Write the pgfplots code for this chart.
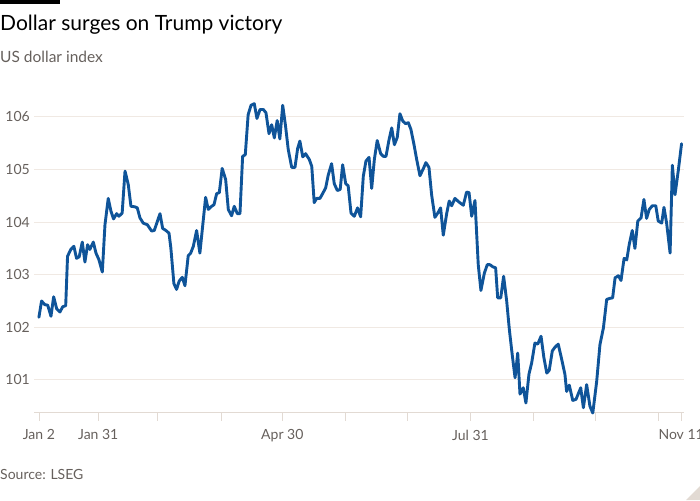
\documentclass[border=0pt]{standalone}
\usepackage{fontspec}
\setmainfont{Lato}
\usepackage{pgfplots}
\pgfplotsset{compat=1.18}
\definecolor{ftblue}{HTML}{0F5499}
\definecolor{ftgrid}{HTML}{F0E9E3}
\definecolor{fttick}{HTML}{E2DAD3}
\definecolor{fttext}{HTML}{66605C}
\begin{document}
\begin{tikzpicture}[x=1pt,y=1pt]
\path[use as bounding box] (0,0) rectangle (700,500);
\fill[black] (0,496) rectangle (60,500);
\node[anchor=base west, inner sep=0pt, font=\fontsize{21}{24}\selectfont] at (0,469) {Dollar surges on Trump victory};
\node[anchor=base west, inner sep=0pt, text=fttext, font=\fontsize{15.5}{18}\selectfont] at (0,437) {US dollar index};
\node[anchor=base west, inner sep=0pt, text=fttext, font=\fontsize{14}{17}\selectfont] at (0,20.7) {Source: LSEG};
\fill[fttick] (686,0) -- (700,14) -- (700,0) -- cycle;
\begin{axis}[
    at={(34pt,87.5pt)}, anchor=south west,
    scale only axis,
    width=650pt, height=319.3pt,
    xmin=-2.4, xmax=315.4,
    ymin=100.38, ymax=106.45,
    clip=false,
    axis line style={draw=none},
    ytick={101,102,103,104,105,106},
    ymajorgrids,
    grid style={ftgrid, line width=0.8pt},
    xtick={0,29,58,89,119,150,180,211,242,272,303,314},
    xticklabels={Jan 2,Jan 31,,,Apr 30,,,Jul 31,,,,Nov 11},
    tick align=outside,
    major tick length=8pt,
    xtick pos=bottom, ytick pos=left,
    xtick style={draw=fttick, line width=0.8pt},
    ytick style={draw=none},
    /pgf/number format/assume math mode=true,
    ticklabel style={text=fttext, font=\fontsize{14}{16}\selectfont},
    yticklabel style={inner sep=0pt, xshift=4pt},
    xticklabel style={inner sep=0pt, yshift=-9pt},
]
\draw[fttick, line width=0.8pt] (rel axis cs:0,0) -- (rel axis cs:1,0);
\addplot[ftblue, line width=2.9pt, line join=round, line cap=round] coordinates {
(0,102.19) (1.3,102.50) (2.9,102.43) (4.3,102.42) (5.9,102.21) (7.2,102.58)
(8.7,102.35) (10.3,102.29) (11.6,102.39) (13.1,102.41) (14.0,103.35) (15.6,103.48)
(17.1,103.54) (18.4,103.31) (19.7,103.34) (21.2,103.62) (22.5,103.24) (23.8,103.57)
(24.9,103.48) (26.6,103.62) (27.9,103.41) (29.3,103.29) (31.0,103.05) (32.3,103.95)
(33.9,104.45) (35.2,104.21) (36.5,104.06) (38.0,104.16) (39.1,104.11) (40.7,104.17)
(42.1,104.97) (43.7,104.71) (45.0,104.30) (46.9,104.29) (48.1,104.27) (49.4,104.08)
(51.0,103.98) (53.0,103.95) (55.1,103.83) (56.4,103.84) (59.2,104.16) (60.5,103.88)
(62.1,103.84) (63.6,103.79) (64.5,103.51) (66.0,102.83) (67.3,102.72) (68.6,102.88)
(70.1,102.95) (71.4,102.79) (73.0,103.36) (74.2,103.41) (75.5,103.54) (77.1,103.84)
(78.7,103.41) (80.0,103.90) (81.5,104.47) (82.8,104.24) (84.1,104.29) (85.6,104.33)
(86.9,104.54) (88.2,104.56) (89.6,105.02) (91.3,104.81) (92.6,104.24) (94.2,104.12)
(95.5,104.30) (97.0,104.16) (98.3,104.16) (99.6,105.25) (100.9,105.28) (102.3,106.04)
(103.7,106.22) (105.3,106.25) (106.6,105.97) (108.1,106.14) (109.7,106.14) (111.0,106.08)
(112.5,105.68) (113.8,105.85) (115.1,105.60) (116.5,105.93) (117.8,105.58) (119.2,106.22)
(120.6,105.82) (121.9,105.38) (123.6,105.04) (125.2,105.04) (126.5,105.40) (127.6,105.54)
(129.0,105.24) (130.4,105.30) (132.2,105.19) (133.4,105.06) (134.6,104.37) (135.8,104.45)
(137.4,104.45) (138.7,104.54) (140.2,104.65) (141.5,104.90) (143.1,105.11) (144.4,104.73)
(145.9,104.60) (147.3,104.62) (148.5,105.09) (150.0,104.73) (151.2,104.69) (152.6,104.17)
(154.2,104.11) (155.8,104.27) (157.3,104.10) (158.6,104.87) (159.9,105.16) (161.4,105.23)
(162.7,104.64) (164.0,105.19) (165.4,105.55) (167.1,105.30) (168.4,105.25) (169.7,105.25)
(171.2,105.57) (172.5,105.79) (173.8,105.47) (175.2,105.61) (176.5,106.06) (177.9,105.92)
(179.3,105.87) (180.6,105.89) (181.9,105.76) (183.4,105.47) (184.7,105.19) (186.3,104.88)
(188.0,105.02) (189.2,105.13) (190.7,105.04) (192.0,104.52) (193.6,104.09) (195.0,104.17)
(196.4,104.27) (197.7,103.75) (199.4,104.17) (200.6,104.40) (201.8,104.31) (203.4,104.45)
(205.4,104.38) (207.5,104.32) (209.1,104.57) (210.3,104.56) (211.6,104.11) (213.2,104.41)
(214.8,103.19) (216.1,102.70) (217.8,103.03) (219.2,103.19) (220.5,103.19) (221.9,103.15)
(223.3,103.13) (224.3,102.56) (225.8,102.56) (227.2,102.97) (228.7,102.50) (230.0,101.96)
(231.4,101.48) (232.8,101.04) (234.1,101.51) (235.2,100.73) (236.8,100.85) (238.1,100.56)
(239.6,101.11) (240.9,101.32) (242.5,101.70) (243.9,101.68) (245.5,101.83) (246.9,101.42)
(248.3,101.13) (249.5,101.18) (251.0,101.55) (252.3,101.62) (253.9,101.68) (255.6,101.39)
(257.2,101.10) (258.0,100.78) (259.3,100.90) (261.0,100.61) (262.6,100.63) (264.9,100.85)
(266.2,100.47) (267.8,100.91) (269.4,100.50) (270.8,100.37) (272.7,100.97) (274.3,101.67)
(276.0,101.99) (277.6,102.53) (279.2,102.55) (280.5,102.56) (281.7,102.94) (283.3,102.98)
(284.6,102.89) (286.1,103.31) (287.4,103.28) (288.6,103.57) (290.1,103.84) (291.4,103.50)
(292.8,104.02) (294.4,104.08) (295.8,104.43) (297.1,104.07) (298.4,104.24) (299.9,104.31)
(301.6,104.31) (302.8,104.02) (304.5,103.98) (305.6,104.28) (306.9,103.98) (308.6,103.41)
(309.7,105.08) (311.0,104.52) (312.6,104.98) (314.2,105.49)
};
\end{axis}
\end{tikzpicture}
\end{document}
